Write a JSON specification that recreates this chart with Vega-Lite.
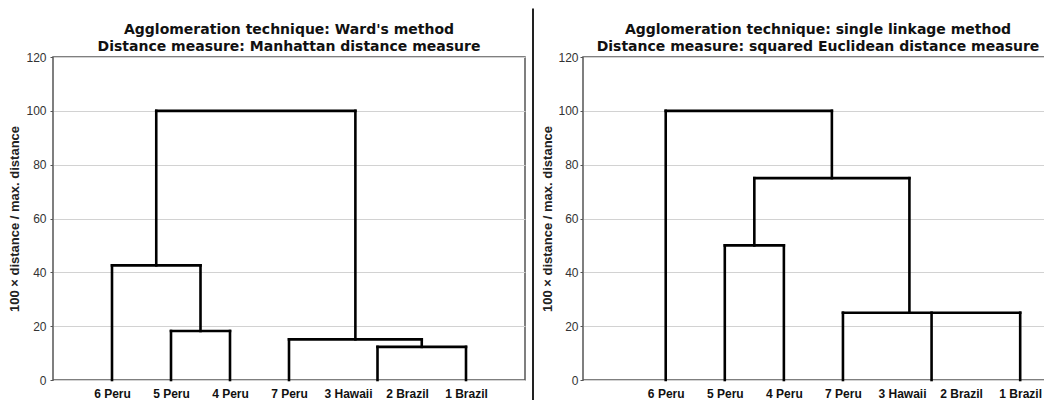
{
  "$schema": "https://vega.github.io/schema/vega-lite/v6.json",
  "autosize": {"type": "pad"},
  "padding": {"left": 8, "top": 7, "right": 0, "bottom": 0},
  "background": "white",
  "bounds": "flush",
  "spacing": 0,
  "config": {
    "view": {"stroke": "#555", "strokeWidth": 1.5},
    "font": "Liberation Sans",
    "title": {"font": "DejaVu Sans", "fontSize": 14, "fontWeight": "bold", "color": "#111", "lineHeight": 17, "offset": -3},
    "axisY": {
      "grid": true, "gridColor": "#d2d2d2", "gridWidth": 1,
      "domain": false,
      "tickSize": 3, "tickColor": "#555",
      "labelFont": "Liberation Sans", "labelFontSize": 12, "labelColor": "#333",
      "titleFont": "Liberation Sans", "titleFontSize": 13, "titleFontWeight": "bold", "titleColor": "#222"
    },
    "axisX": {
      "grid": false, "domain": false, "ticks": false, "tickSize": 0,
      "labelPadding": 8, "labelFlush": false, "labelBound": false, "labelOverlap": false,
      "labelFont": "Liberation Sans", "labelFontSize": 12, "labelFontWeight": "bold", "labelColor": "#111"
    }
  },
  "datasets": {
    "ward": [
      {"x1": 1, "x2": 1, "y1": 0, "y2": 42.6},
      {"x1": 2, "x2": 2, "y1": 0, "y2": 18.2},
      {"x1": 3, "x2": 3, "y1": 0, "y2": 18.2},
      {"x1": 2, "x2": 3, "y1": 18.2, "y2": 18.2},
      {"x1": 2.5, "x2": 2.5, "y1": 18.2, "y2": 42.6},
      {"x1": 1, "x2": 2.5, "y1": 42.6, "y2": 42.6},
      {"x1": 1.75, "x2": 1.75, "y1": 42.6, "y2": 100},
      {"x1": 1.75, "x2": 5.125, "y1": 100, "y2": 100},
      {"x1": 5.125, "x2": 5.125, "y1": 15.1, "y2": 100},
      {"x1": 4, "x2": 6.25, "y1": 15.1, "y2": 15.1},
      {"x1": 4, "x2": 4, "y1": 0, "y2": 15.1},
      {"x1": 6.25, "x2": 6.25, "y1": 12.3, "y2": 15.1},
      {"x1": 5.5, "x2": 7, "y1": 12.3, "y2": 12.3},
      {"x1": 5.5, "x2": 5.5, "y1": 0, "y2": 12.3},
      {"x1": 7, "x2": 7, "y1": 0, "y2": 12.3}
    ],
    "single": [
      {"x1": 1, "x2": 1, "y1": 0, "y2": 100},
      {"x1": 1, "x2": 3.8125, "y1": 100, "y2": 100},
      {"x1": 3.8125, "x2": 3.8125, "y1": 75, "y2": 100},
      {"x1": 2.5, "x2": 5.125, "y1": 75, "y2": 75},
      {"x1": 2.5, "x2": 2.5, "y1": 50, "y2": 75},
      {"x1": 2, "x2": 3, "y1": 50, "y2": 50},
      {"x1": 2, "x2": 2, "y1": 0, "y2": 50},
      {"x1": 3, "x2": 3, "y1": 0, "y2": 50},
      {"x1": 5.125, "x2": 5.125, "y1": 25, "y2": 75},
      {"x1": 4, "x2": 7, "y1": 25, "y2": 25},
      {"x1": 4, "x2": 4, "y1": 0, "y2": 25},
      {"x1": 5.5, "x2": 5.5, "y1": 0, "y2": 25},
      {"x1": 7, "x2": 7, "y1": 0, "y2": 25}
    ],
    "divider": [{"pos": 8, "bottom": -8, "top": 138}]
  },
  "hconcat": [
    {
      "width": 472,
      "height": 323,
      "title": {"text": ["Agglomeration technique: Ward's method", "Distance measure: Manhattan distance measure"]},
      "data": {"name": "ward"},
      "mark": {"type": "rule", "color": "#000", "strokeWidth": 2.6, "strokeCap": "square"},
      "encoding": {
        "x": {"field": "x1", "type": "quantitative", "scale": {"domain": [0, 8]},
              "axis": {"values": [1, 2, 3, 4, 5, 6, 7], "title": null,
                       "labelExpr": "['','6 Peru','5 Peru','4 Peru','7 Peru','3 Hawaii','2 Brazil','1 Brazil'][datum.value]"}},
        "x2": {"field": "x2"},
        "y": {"field": "y1", "type": "quantitative", "scale": {"domain": [0, 120]},
              "axis": {"values": [0, 20, 40, 60, 80, 100, 120], "title": "100 × distance / max. distance", "labelPadding": 4, "titlePadding": 4}},
        "y2": {"field": "y2"}
      }
    },
    {
      "width": 58,
      "height": 323,
      "view": {"stroke": null},
      "data": {"name": "divider"},
      "mark": {"type": "rule", "color": "#222", "strokeWidth": 2, "clip": false},
      "encoding": {
        "x": {"field": "pos", "type": "quantitative", "scale": {"domain": [0, 58]}, "axis": null},
        "y": {"field": "bottom", "type": "quantitative", "scale": {"domain": [0, 120]}, "axis": null},
        "y2": {"field": "top"}
      }
    },
    {
      "width": 462,
      "height": 323,
      "title": {"text": ["Agglomeration technique: single linkage method", "Distance measure: squared Euclidean distance measure"], "dx": 4},
      "data": {"name": "single"},
      "mark": {"type": "rule", "color": "#000", "strokeWidth": 2.6, "strokeCap": "square"},
      "encoding": {
        "x": {"field": "x1", "type": "quantitative", "scale": {"domain": [-0.4, 7.42]},
              "axis": {"values": [1, 2, 3, 4, 5, 6, 7], "title": null,
                       "labelExpr": "['','6 Peru','5 Peru','4 Peru','7 Peru','3 Hawaii','2 Brazil','1 Brazil'][datum.value]"}},
        "x2": {"field": "x2"},
        "y": {"field": "y1", "type": "quantitative", "scale": {"domain": [0, 120]},
              "axis": {"values": [0, 20, 40, 60, 80, 100, 120], "title": "100 × distance / max. distance", "labelPadding": 2, "titlePadding": 3}},
        "y2": {"field": "y2"}
      }
    }
  ]
}
